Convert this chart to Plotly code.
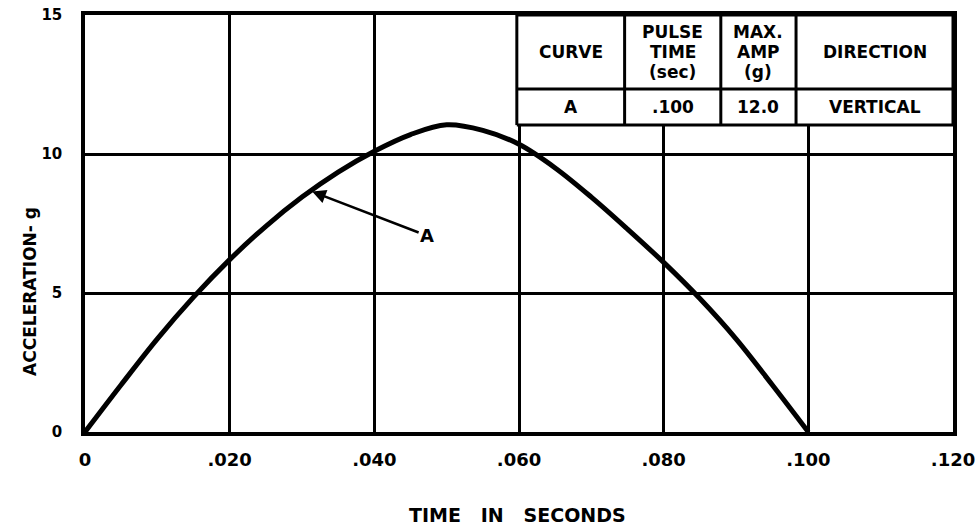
import plotly.graph_objects as go

# ---- data ----
time_s = [0, .005, .010, .015, .020, .025, .030, .035, .040, .045, .050,
          .055, .060, .065, .070, .075, .080, .085, .090, .095, .100]
accel_g = [0, 1.7, 3.35, 4.85, 6.2, 7.4, 8.45, 9.35, 10.1, 10.7, 11.05,
           10.85, 10.35, 9.5, 8.45, 7.3, 6.1, 4.8, 3.35, 1.7, 0]

x_tickvals = [0, .02, .04, .06, .08, .10, .12]
x_ticktext = ["0", ".020", ".040", ".060", ".080", ".100", ".120"]
y_tickvals = [0, 5, 10, 15]
y_ticktext = ["0", "5", "10", "15"]

table_header_lines = [["CURVE"], ["PULSE", "TIME", "(sec)"], ["MAX.", "AMP", "(g)"], ["DIRECTION"]]
table_row = ["A", ".100", "12.0", "VERTICAL"]

FONT = "DejaVu Sans"
fig = go.Figure()
fig.add_trace(go.Scatter(x=time_s, y=accel_g, mode="lines",
                         line=dict(color="black", width=5, shape="spline", smoothing=1.0),
                         hoverinfo="skip", showlegend=False))

# table geometry (data coords)
col_x = [0.0597, 0.0746, 0.0879, 0.0983, 0.12]
row_y = [15, 12.34, 11.04]

shapes = []
shapes.append(dict(type="rect", xref="x", yref="y", x0=col_x[0], x1=col_x[-1],
                   y0=row_y[-1], y1=row_y[0], fillcolor="white",
                   line=dict(width=0), layer="above"))
for cx in col_x:
    shapes.append(dict(type="line", xref="x", yref="y", x0=cx, x1=cx,
                       y0=row_y[-1], y1=row_y[0], line=dict(color="black", width=3),
                       layer="above"))
for ry in row_y:
    shapes.append(dict(type="line", xref="x", yref="y", x0=col_x[0], x1=col_x[-1],
                       y0=ry, y1=ry, line=dict(color="black", width=3), layer="above"))

tfont = dict(family=FONT, size=17, color="black", weight="bold")
annotations = []
hdr_mid = (row_y[0] + row_y[1]) / 2
for i in range(4):
    cx = (col_x[i] + col_x[i + 1]) / 2
    lines = table_header_lines[i]
    n = len(lines)
    for j, txt in enumerate(lines):
        annotations.append(dict(x=cx, y=hdr_mid, xref="x", yref="y", text=txt,
                                yshift=(n - 1) * 10 - j * 20, showarrow=False,
                                font=tfont))
    annotations.append(dict(x=cx, y=(row_y[1] + row_y[2]) / 2, xref="x", yref="y",
                            text=table_row[i], showarrow=False, font=tfont))

# curve label with arrow
annotations.append(dict(x=0.0314, y=8.65, xref="x", yref="y", ax=0.0473, ay=7.06,
                        axref="x", ayref="y", text="A", showarrow=True,
                        arrowhead=2, arrowsize=1.1, arrowwidth=2.5, arrowcolor="black",
                        font=dict(family=FONT, size=18, color="black", weight="bold")))
# axis titles
annotations.append(dict(x=(517 - 85) / 868, y=0, xref="paper", yref="paper",
                        xanchor="center", yanchor="middle", yshift=-83,
                        text="TIME   IN   SECONDS", showarrow=False,
                        font=dict(family=FONT, size=19, color="black", weight="bold")))
annotations.append(dict(x=0, y=5.04, xref="paper", yref="y", xanchor="center",
                        yanchor="middle", xshift=-55,
                        text="ACCELERATION- g", textangle=-90, showarrow=False,
                        font=dict(family=FONT, size=17, color="black", weight="bold")))

fig.update_layout(
    width=978, height=527,
    margin=dict(l=85, r=25, t=15, b=95, autoexpand=False),
    paper_bgcolor="white", plot_bgcolor="white",
    shapes=shapes, annotations=annotations,
    xaxis=dict(range=[0, 0.12], tickvals=x_tickvals, ticktext=x_ticktext,
               showgrid=True, gridcolor="black", gridwidth=3, zeroline=False,
               showline=True, linecolor="black", linewidth=3.5, mirror=True,
               ticks="", ticklabelstandoff=9, ticklabeloverflow="allow",
               automargin=False,
               tickfont=dict(family=FONT, size=18, color="black", weight="bold")),
    yaxis=dict(range=[0, 15], tickvals=y_tickvals, ticktext=y_ticktext,
               showgrid=True, gridcolor="black", gridwidth=3, zeroline=False,
               showline=True, linecolor="black", linewidth=3.5, mirror=True,
               ticks="", ticklabelstandoff=16, automargin=False,
               tickfont=dict(family=FONT, size=15, color="black", weight="bold")),
)
fig.write_html("out.html", config={"displayModeBar": False},
               post_script="document.body.style.margin='0';document.body.style.overflow='hidden';")
